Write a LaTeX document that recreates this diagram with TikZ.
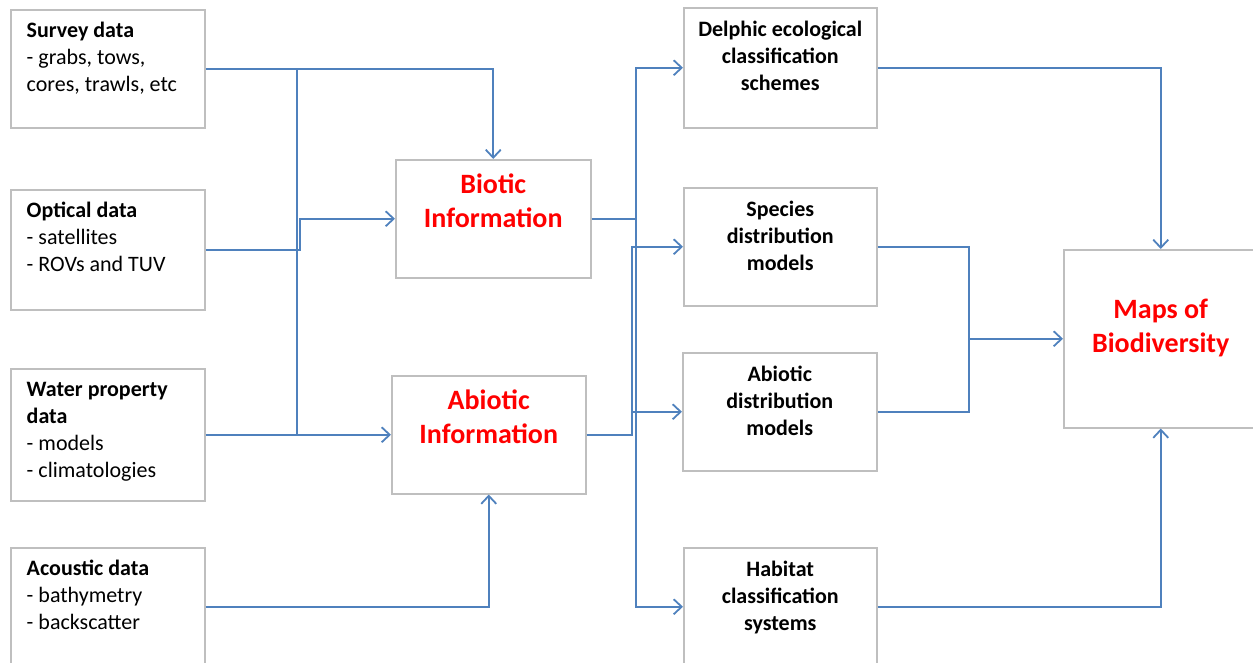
\documentclass[tikz,border=0pt]{standalone}
\usepackage{fontspec}
\setmainfont{Carlito}
\usepackage{tikz}
\usetikzlibrary{arrows.meta,calc}
\tikzset{>={Straight Barb[length=8pt,width=15pt]}}
\definecolor{linkblue}{RGB}{79,129,189}
\definecolor{boxgray}{RGB}{191,191,191}
\definecolor{infored}{RGB}{255,0,0}
% box height, text width, top gap, text
\newcommand{\boxbody}[4]{\parbox[c][#1][t]{#2}{\vspace*{#3}#4}}

\begin{document}
\begin{tikzpicture}[x=1pt,y=-1pt,
    srcbox/.style={draw=boxgray,line width=1.5pt,anchor=north west,inner xsep=16pt,inner ysep=0pt,font=\fontsize{22}{27}\selectfont},
    infobox/.style={draw=boxgray,line width=1.5pt,anchor=north west,inner sep=0pt,text=infored,font=\bfseries\fontsize{28}{34}\selectfont},
    modelbox/.style={draw=boxgray,line width=1.5pt,anchor=north west,inner sep=0pt,font=\bfseries\fontsize{22}{27}\selectfont},
    link/.style={draw=linkblue,line width=1.8pt}]
  \useasboundingbox (0,0) rectangle (1253,662);
  \clip (0,0) rectangle (1253,662);

  % data sources
  \node[srcbox] (survey) at (10,9) {\boxbody{118pt}{162pt}{9pt}{\raggedright\strut\textbf{Survey data}\\- grabs, tows,\\cores, trawls, etc}};
  \node[srcbox] (optical) at (10,189) {\boxbody{120pt}{162pt}{9pt}{\raggedright\strut\textbf{Optical data}\\- satellites\\- ROVs and TUV}};
  \node[srcbox] (water) at (10,368) {\boxbody{132pt}{162pt}{9pt}{\raggedright\strut\textbf{Water property}\\\textbf{data}\\- models\\- climatologies}};
  \node[srcbox] (acoustic) at (10,547) {\boxbody{118pt}{162pt}{9pt}{\raggedright\strut\textbf{Acoustic data}\\- bathymetry\\- backscatter}};

  % information
  \node[infobox] (biotic) at (395,159) {\boxbody{118pt}{195pt}{10pt}{\centering\strut Biotic\\Information}};
  \node[infobox] (abiotic) at (391,375) {\boxbody{118pt}{194pt}{10pt}{\centering\strut Abiotic\\Information}};

  % models and schemes
  \node[modelbox] (delphic) at (683,7) {\boxbody{120pt}{193pt}{10pt}{\centering\strut Delphic ecological\\classification\\schemes}};
  \node[modelbox] (species) at (683,187) {\boxbody{118pt}{193pt}{10pt}{\centering\strut Species\\distribution\\models}};
  \node[modelbox] (abdist) at (682,352) {\boxbody{118pt}{194pt}{10pt}{\centering\strut Abiotic\\distribution\\models}};
  \node[modelbox] (habitat) at (683,547) {\boxbody{118pt}{193pt}{10pt}{\centering\strut Habitat\\classification\\systems}};

  \node[infobox] (maps) at (1063,249) {\boxbody{178pt}{194pt}{45pt}{\centering\strut Maps of\\Biodiversity}};

  \coordinate (busL) at (297,0);
  \coordinate (busL2) at (300,0);
  \coordinate (busR) at (636,0);
  \coordinate (busR2) at (632,0);
  \coordinate (busM) at (969,0);

  % left
  \draw[link,->] (survey.east) -| (biotic.north);
  \draw[link] (survey.east -| busL) -- (water.east -| busL);
  \draw[link,->] (optical.east) -- (optical.east -| busL2) |- (biotic.west);
  \draw[link,->] (water.east) -- (abiotic.west);
  \draw[link,->] (acoustic.east) -| (abiotic.south);

  % middle
  \draw[link,->] (biotic.east) -| (busR |- delphic.west) -- (delphic.west);
  \draw[link,->] (busR |- delphic.west) |- (habitat.west);
  \draw[link,->] (abiotic.east) -| (busR2 |- species.west) -- (species.west);
  \draw[link,->] (busR2 |- abdist.west) -- (abdist.west);

  % right
  \draw[link,->] (delphic.east) -| (maps.north);
  \draw[link,->] (habitat.east) -| (maps.south);
  \draw[link] (species.east) -| (busM |- abdist.east) -- (abdist.east);
  \draw[link,->] (busM |- maps.west) -- (maps.west);
\end{tikzpicture}
\end{document}
